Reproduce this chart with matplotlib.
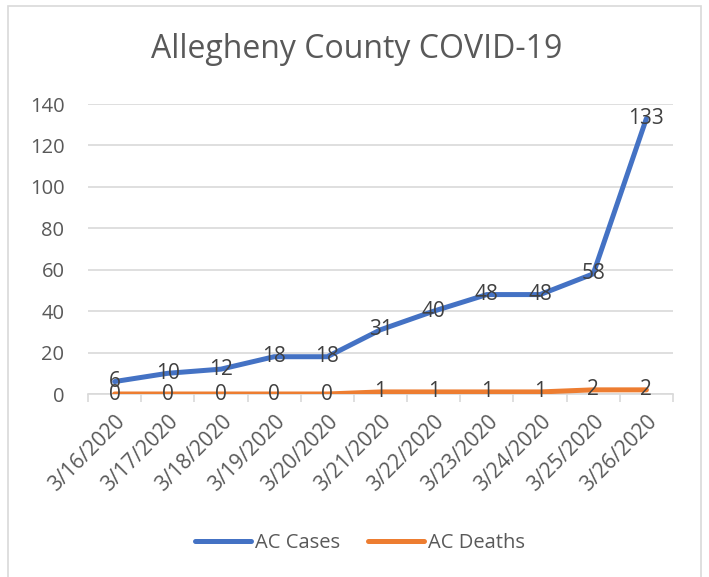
import matplotlib
matplotlib.use("Agg")
import matplotlib.pyplot as plt
from matplotlib.patches import Rectangle

dates = ["3/16/2020", "3/17/2020", "3/18/2020", "3/19/2020", "3/20/2020", "3/21/2020",
         "3/22/2020", "3/23/2020", "3/24/2020", "3/25/2020", "3/26/2020"]
cases = [6, 10, 12, 18, 18, 31, 40, 48, 48, 58, 133]
deaths = [0, 0, 0, 0, 0, 1, 1, 1, 1, 2, 2]
yticks = [0, 20, 40, 60, 80, 100, 120, 140]

plt.rcParams['font.family'] = ['Open Sans', 'DejaVu Sans']
W, H = 709, 577
fig = plt.figure(figsize=(W/100, H/100), dpi=100)
fig.patches.append(Rectangle((8/W, -0.05), (701-8)/W, 1.05 - 6/H, transform=fig.transFigure,
                             fill=False, edgecolor='#d9d9d9', linewidth=1.2))

ax = fig.add_axes([88/W, 1-394/H, (673-88)/W, (394-104)/H])
x = list(range(len(dates)))
blue = '#4472c4'
orange = '#ed7d31'
ax.plot(x, cases, color=blue, linewidth=3.6, solid_capstyle='round', label='AC Cases', zorder=3)
ax.plot(x, deaths, color=orange, linewidth=3.6, solid_capstyle='round', label='AC Deaths', zorder=3)

txtc = '#404040'
fs = 15
for xi, v in zip(x, cases):
    ax.text(xi, v, str(v), ha='center', va='center', fontsize=fs, color=txtc, zorder=4)
for xi, v in zip(x, deaths):
    ax.text(xi, v, str(v), ha='center', va='center', fontsize=fs, color=txtc, zorder=4)

ax.set_xlim(-0.5, len(dates) - 0.5)
ax.set_ylim(0, 140)
ax.set_yticks(yticks)
ax.set_yticklabels([str(t) for t in yticks], fontsize=14.5, color='#595959')
ax.yaxis.grid(True, color='#d9d9d9', linewidth=1.2)
ax.set_axisbelow(True)
ax.tick_params(axis='y', length=0, pad=17)
for s in ['top', 'right', 'left']:
    ax.spines[s].set_visible(False)
ax.spines['bottom'].set_color('#d9d9d9')
ax.spines['bottom'].set_linewidth(1.2)

ax.set_xticks(x)
ax.set_xticklabels(dates, rotation=45, ha='right', rotation_mode='anchor', fontsize=15, color='#595959')
ax.tick_params(axis='x', length=0, pad=12)
ax.set_xticks([i - 0.5 for i in range(len(dates) + 1)], minor=True)
ax.tick_params(axis='x', which='minor', length=6, color='#d9d9d9', width=1.2)

fig.text(357/W, 1-50/H, 'Allegheny County COVID-19', ha='center', va='center', fontsize=23, color='#595959')

leg = fig.legend(loc='center', bbox_to_anchor=(360/W, 1-543/H), ncol=2, frameon=False,
                 fontsize=14.5, handlelength=2.75, handletextpad=0.2, columnspacing=1.4)
for t in leg.get_texts():
    t.set_color('#595959')

fig.savefig('out.png', dpi=100)
